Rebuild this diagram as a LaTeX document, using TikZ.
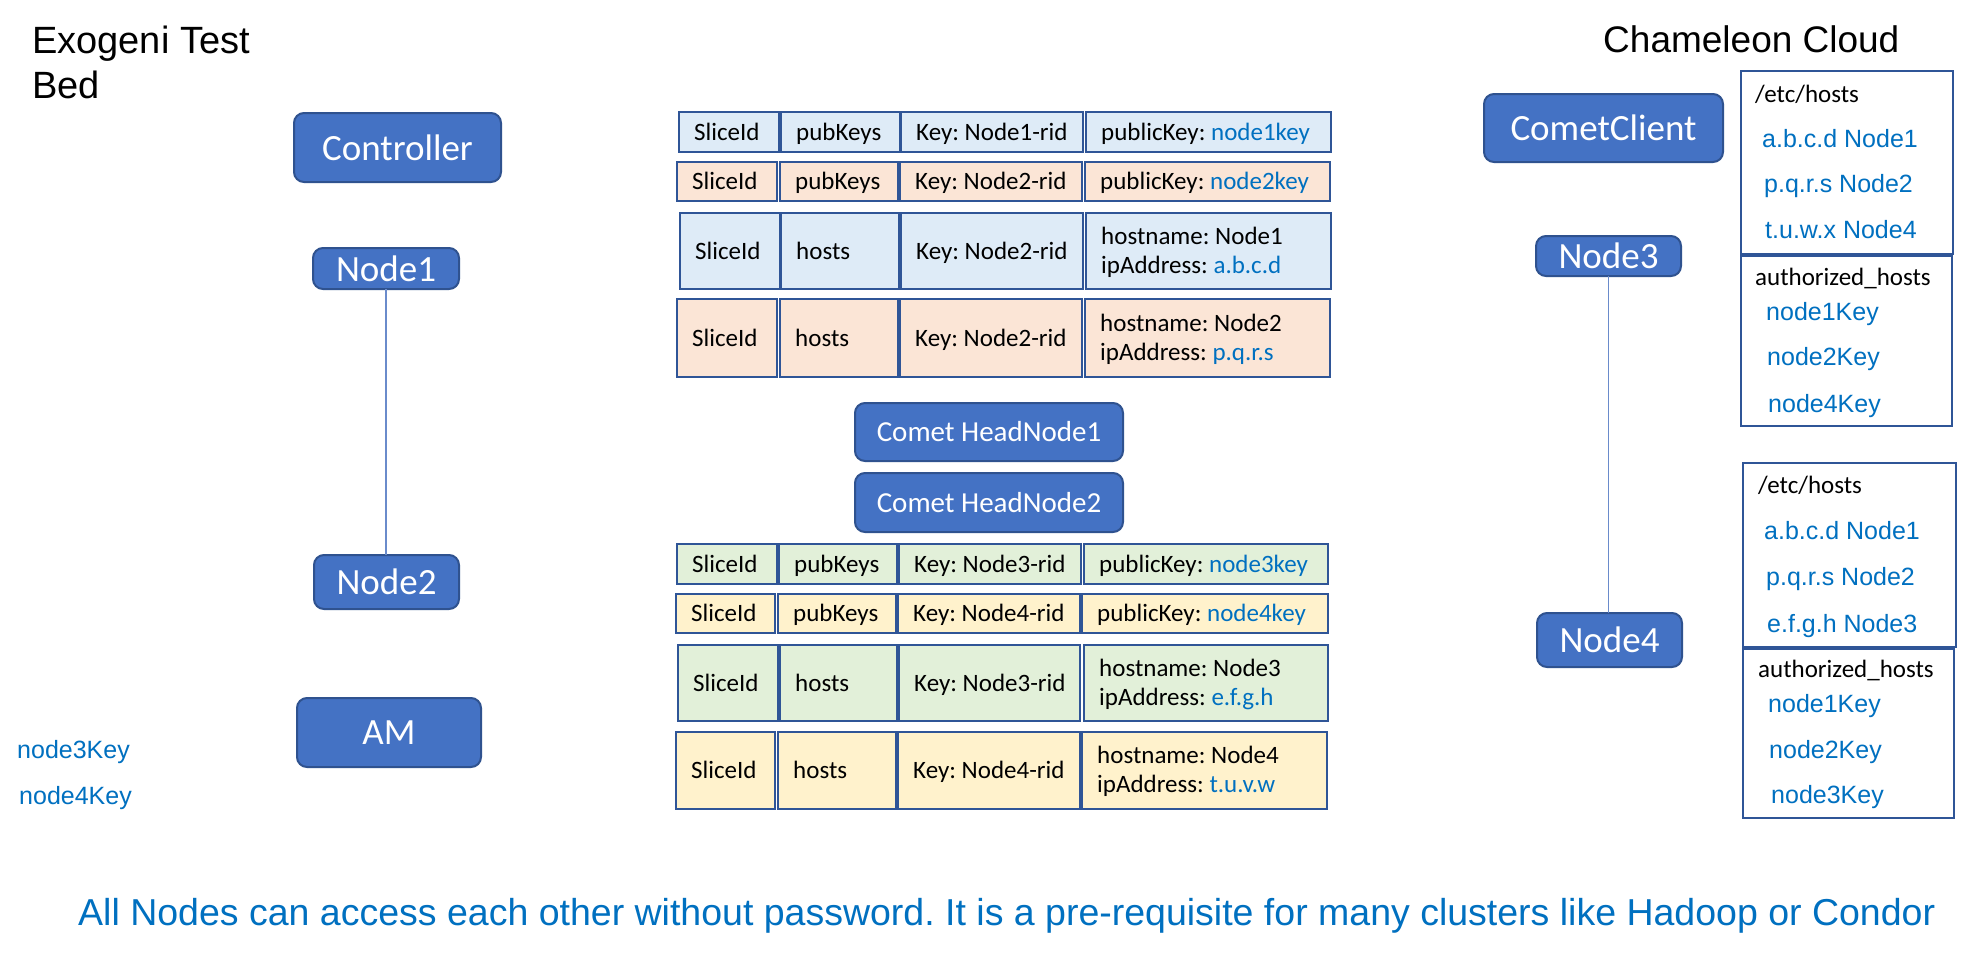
\documentclass[tikz,border=0pt]{standalone}
\usepackage{fontspec}
\setmainfont{Carlito}
\newfontfamily\arialf{Liberation Sans}
\definecolor{boxblue}{HTML}{4472C4}
\definecolor{boxedge}{HTML}{2F528F}
\definecolor{txtblue}{HTML}{0070C0}
\definecolor{cblue}{HTML}{DEEBF7}
\definecolor{corange}{HTML}{FBE5D6}
\definecolor{cgreen}{HTML}{E2F0D9}
\definecolor{cyellow}{HTML}{FFF2CC}
\definecolor{celledge}{HTML}{2F5597}
\definecolor{connblue}{HTML}{6A8BCB}
\tikzset{
  bbox/.style={draw=boxedge, line width=2pt, fill=boxblue, rounded corners=10pt, text=white,
    inner sep=0pt, outer sep=0pt, font=\fontsize{37}{44}\selectfont},
  cellbox/.style={draw=celledge, line width=2pt, inner sep=0pt, outer sep=0pt},
  panelbox/.style={draw=celledge, line width=2pt, inner sep=0pt, outer sep=0pt},
  ctext/.style={anchor=base west, inner sep=0pt, font=\fontsize{25}{30}\selectfont},
  ptext/.style={anchor=base west, inner sep=0pt, font=\fontsize{25}{30}\selectfont},
  btext/.style={anchor=base west, inner sep=0pt, text=txtblue, font=\arialf\fontsize{25}{30}\selectfont},
  ttext/.style={anchor=base west, inner sep=0pt, font=\arialf\fontsize{37}{44}\selectfont},
  conn/.style={draw=connblue, line width=1.3pt},
}
\newcommand\bbx[6]{\node[bbox, minimum width={(#4-#2)*1pt}, minimum height={(#5-#3)*1pt}] (#1) at ({(#2+#4)/2},{(#3+#5)/2}) {#6};}
\newcommand\cellA[7]{\node[cellbox, fill=#6, minimum width={(#4-#2)*1pt}, minimum height={(#5-#3)*1pt}] (#1) at ({(#2+#4)/2},{(#3+#5)/2}) {};
  \node[ctext] (#1t) at ({#2+15},{(#3+#5)/2+8}) {#7};}
\newcommand\cellB[8]{\node[cellbox, fill=#6, minimum width={(#4-#2)*1pt}, minimum height={(#5-#3)*1pt}] (#1) at ({(#2+#4)/2},{(#3+#5)/2}) {};
  \node[ctext] (#1ta) at ({#2+15},{(#3+#5)/2-7}) {#7};
  \node[ctext] (#1tb) at ({#2+15},{(#3+#5)/2+22}) {#8};}
\newcommand\pbx[5]{\node[panelbox, minimum width={(#4-#2)*1pt}, minimum height={(#5-#3)*1pt}] (#1) at ({(#2+#4)/2},{(#3+#5)/2}) {};}
\newcommand\bl[1]{\textcolor{txtblue}{#1}}
\frenchspacing
\begin{document}
\begin{tikzpicture}[x=1pt, y=-1pt]
\useasboundingbox (0,0) rectangle (1968,956);
\fill[white] (0,0) rectangle (1968,956);

% titles
\node[ttext, font=\arialf\fontsize{38}{45}\selectfont] (t1) at (32,53) {Exogeni Test};
\node[ttext, font=\arialf\fontsize{38}{45}\selectfont] (t2) at (32,98) {Bed};
\node[ttext] (t3) at (1603,52) {Chameleon Cloud};

% left side
\bbx{ctrl}{294}{113}{501}{182}{Controller}
\bbx{n1}{313}{248}{459}{289}{Node1}
\bbx{n2}{314}{555}{459}{609}{Node2}
\bbx{am}{297}{698}{481}{767}{AM}
\draw[conn] (n1.south) -- (n1.south |- n2.north);
\node[btext] (k3) at (17,758) {node3Key};
\node[btext] (k4) at (19,804) {node4Key};

% head nodes
\node[bbox, font=\fontsize{29}{35}\selectfont, minimum width=268pt, minimum height=58pt] (h1) at (989,432) {Comet HeadNode1};
\node[bbox, font=\fontsize{29}{35}\selectfont, minimum width=268pt, minimum height=59pt] (h2) at (989,502.5) {Comet HeadNode2};

% table rows
\cellA{r1c1}{679}{112}{779}{152}{cblue}{SliceId}
\cellA{r1c2}{781}{112}{900}{152}{cblue}{pubKeys}
\cellA{r1c3}{901}{112}{1083}{152}{cblue}{Key: Node1-rid}
\cellA{r1c4}{1086}{112}{1331}{152}{cblue}{publicKey: \bl{node1key}}

\cellA{r2c1}{677}{162}{777}{201}{corange}{SliceId}
\cellA{r2c2}{780}{162}{898}{201}{corange}{pubKeys}
\cellA{r2c3}{900}{162}{1082}{201}{corange}{Key: Node2-rid}
\cellA{r2c4}{1085}{162}{1330}{201}{corange}{publicKey: \bl{node2key}}

\cellA{r3c1}{680}{213}{780}{289}{cblue}{SliceId}
\cellA{r3c2}{781}{213}{899}{289}{cblue}{hosts}
\cellA{r3c3}{901}{213}{1083}{289}{cblue}{Key: Node2-rid}
\cellB{r3c4}{1086}{213}{1331}{289}{cblue}{hostname: Node1}{ipAddress: \bl{a.b.c.d}}

\cellA{r4c1}{677}{299}{777}{377}{corange}{SliceId}
\cellA{r4c2}{780}{299}{898}{377}{corange}{hosts}
\cellA{r4c3}{900}{299}{1082}{377}{corange}{Key: Node2-rid}
\cellB{r4c4}{1085}{299}{1330}{377}{corange}{hostname: Node2}{ipAddress: \bl{p.q.r.s}}

\cellA{r5c1}{677}{544}{777}{584}{cgreen}{SliceId}
\cellA{r5c2}{779}{544}{897}{584}{cgreen}{pubKeys}
\cellA{r5c3}{899}{544}{1081}{584}{cgreen}{Key: Node3-rid}
\cellA{r5c4}{1084}{544}{1328}{584}{cgreen}{publicKey: \bl{node3key}}

\cellA{r6c1}{676}{594}{775}{633}{cyellow}{SliceId}
\cellA{r6c2}{778}{594}{896}{633}{cyellow}{pubKeys}
\cellA{r6c3}{898}{594}{1080}{633}{cyellow}{Key: Node4-rid}
\cellA{r6c4}{1082}{594}{1328}{633}{cyellow}{publicKey: \bl{node4key}}

\cellA{r7c1}{678}{645}{778}{721}{cgreen}{SliceId}
\cellA{r7c2}{780}{645}{897}{721}{cgreen}{hosts}
\cellA{r7c3}{899}{645}{1080}{721}{cgreen}{Key: Node3-rid}
\cellB{r7c4}{1084}{645}{1328}{721}{cgreen}{hostname: Node3}{ipAddress: \bl{e.f.g.h}}

\cellA{r8c1}{676}{732}{775}{809}{cyellow}{SliceId}
\cellA{r8c2}{778}{732}{896}{809}{cyellow}{hosts}
\cellA{r8c3}{898}{732}{1080}{809}{cyellow}{Key: Node4-rid}
\cellB{r8c4}{1082}{732}{1327}{809}{cyellow}{hostname: Node4}{ipAddress: \bl{t.u.v.w}}

% right side
\bbx{cc}{1484}{94}{1723}{162}{CometClient}
\bbx{n3}{1536}{236}{1681}{276}{Node3}
\bbx{n4}{1537}{613}{1682}{667}{Node4}
\draw[conn] (n3.south) -- (n3.south |- n4.north);

\pbx{p1a}{1741}{71}{1953}{254}
\pbx{p1b}{1741}{256}{1952}{426}
\node[ptext] (p1h) at (1755,102) {/etc/hosts};
\node[btext] (p1e1) at (1762,147) {a.b.c.d Node1};
\node[btext] (p1e2) at (1764,192) {p.q.r.s Node2};
\node[btext] (p1e3) at (1765,238) {t.u.w.x Node4};
\node[ptext] (p1k) at (1755,285) {authorized\_hosts};
\node[btext] (p1k1) at (1766,320) {node1Key};
\node[btext] (p1k2) at (1767,365) {node2Key};
\node[btext] (p1k3) at (1768,412) {node4Key};

\pbx{p2a}{1743}{463}{1956}{647}
\pbx{p2b}{1743}{649}{1954}{818}
\node[ptext] (p2h) at (1758,493) {/etc/hosts};
\node[btext] (p2e1) at (1764,539) {a.b.c.d Node1};
\node[btext] (p2e2) at (1766,585) {p.q.r.s Node2};
\node[btext] (p2e3) at (1767,632) {e.f.g.h Node3};
\node[ptext] (p2k) at (1758,677) {authorized\_hosts};
\node[btext] (p2k1) at (1768,712) {node1Key};
\node[btext] (p2k2) at (1769,758) {node2Key};
\node[btext] (p2k3) at (1771,803) {node3Key};

% bottom note
\node[anchor=base west, inner sep=0pt, text=txtblue, font=\arialf\fontsize{37.5}{45}\selectfont] (note) at (78,925) {All Nodes can access each other without password. It is a pre-requisite for many clusters like Hadoop or Condor};
\end{tikzpicture}
\end{document}
